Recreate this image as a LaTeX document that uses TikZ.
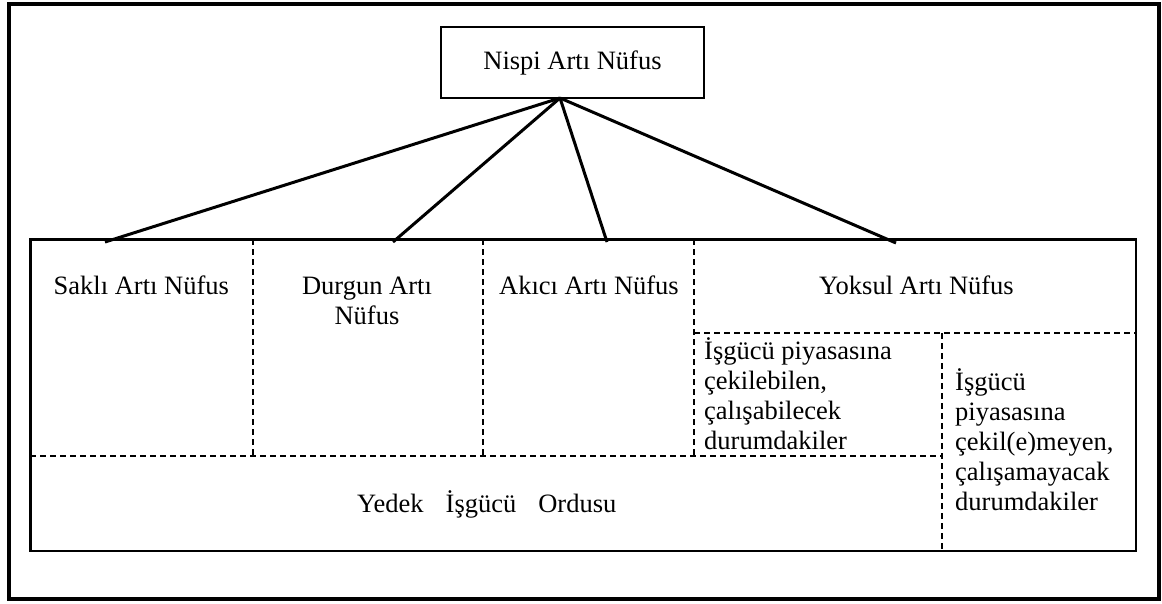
\documentclass[tikz,border=0pt]{standalone}
\usepackage{fontspec}
\setmainfont{Liberation Serif}
\tikzset{
  lbl/.style={font=\fontsize{26.5}{30}\selectfont, inner sep=0pt, text=black},
  framebox/.style={draw, line width=4pt},
  tablebox/.style={draw, line width=2.4pt},
  divider/.style={line width=1.8pt, dash pattern=on 6pt off 4pt},
  link/.style={line width=3pt},
}
\begin{document}
\begin{tikzpicture}[x=1pt,y=-1pt]
\useasboundingbox (0,0) rectangle (1162,603);
% outer frame
\draw[framebox] (9,4) rectangle (1159,599);
% top box
\node[draw, line width=1.3pt, minimum width=263pt, minimum height=71pt, lbl] (top) at (572.5,62.5) {Nispi Artı Nüfus};
% table
\coordinate (tl) at (30.5,239.5);
\coordinate (br) at (1136,551);
\draw[tablebox] (tl) rectangle (br);
% dashed dividers
\draw[divider] (253,239) -- (253,456);
\draw[divider] (483,239) -- (483,456);
\draw[divider] (694,239) -- (694,456);
\draw[divider] (694,333) -- (1136,333);
\draw[divider] (30,456) -- (942,456);
\draw[divider] (942,333) -- (942,551);
% connectors
\coordinate (hub) at (560,98);
\coordinate (eSakli) at (105,242);
\coordinate (eDurgun) at (393,242);
\coordinate (eAkici) at (607,242);
\coordinate (eYoksul) at (896,243);
\draw[link] (hub) -- (eSakli);
\draw[link] (hub) -- (eDurgun);
\draw[link] (hub) -- (eAkici);
\draw[link] (hub) -- (eYoksul);
% labels
\node[lbl, anchor=base west] (sakli) at (53.5,294) {Saklı Artı Nüfus};
\node[lbl, anchor=base] (durgun) at (367,294) {\begin{tabular}[t]{@{}c@{}}Durgun Artı\\Nüfus\end{tabular}};
\node[lbl, anchor=base west] (akici) at (499,294) {Akıcı Artı Nüfus};
\node[lbl, anchor=base west] (yoksul) at (819,294) {Yoksul Artı Nüfus};
\node[lbl, anchor=base west] (cekilebilen) at (704,359) {\begin{tabular}[t]{@{}l@{}}İşgücü piyasasına\\çekilebilen,\\çalışabilecek\\durumdakiler\end{tabular}};
\node[lbl, anchor=base west] (cekilemeyen) at (955,390) {\begin{tabular}[t]{@{}l@{}}İşgücü\\piyasasına\\çekil(e)meyen,\\çalışamayacak\\durumdakiler\end{tabular}};
\node[lbl, anchor=base west] (yedek) at (357,512) {Yedek\hspace{22pt}İşgücü\hspace{22pt}Ordusu};
\end{tikzpicture}
\end{document}
